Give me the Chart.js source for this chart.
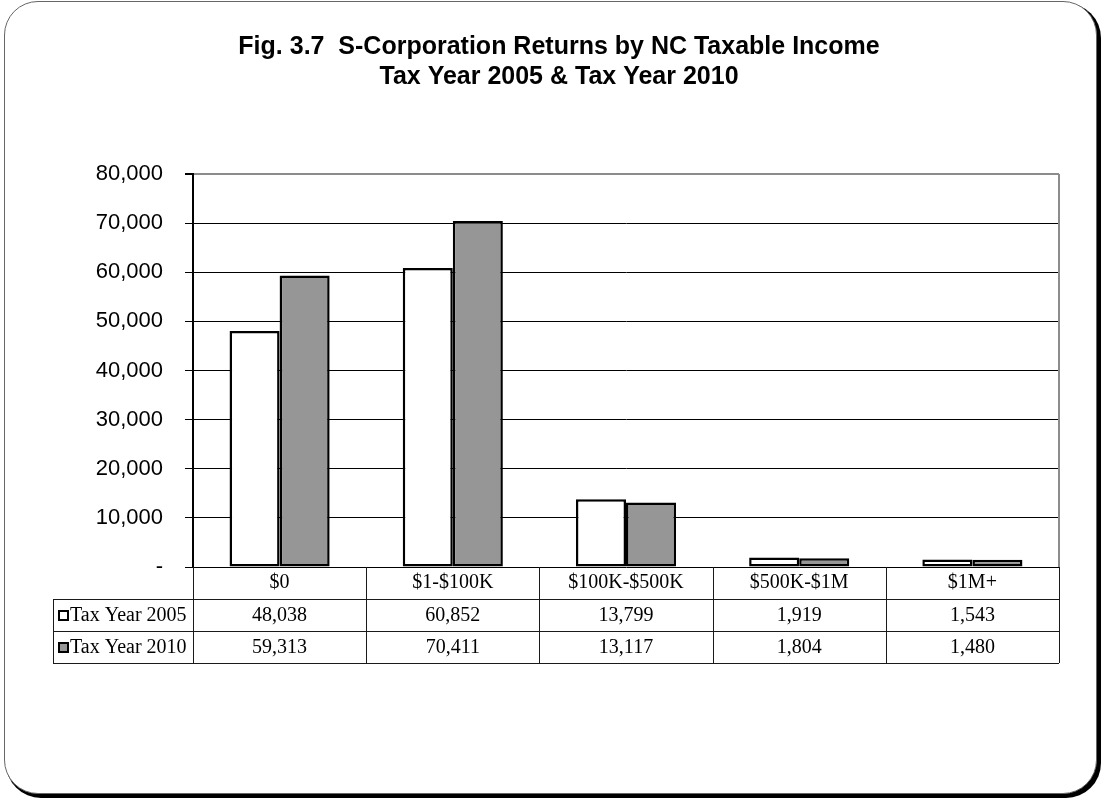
<!DOCTYPE html>
<html>
<head>
<meta charset="utf-8">
<script src="https://cdn.jsdelivr.net/npm/chart.js@4/dist/chart.umd.min.js"></script>
<style>
    html, body { margin: 0; padding: 0; background: #fff; }
    #frame {
        position: absolute; left: 4px; top: 1px; width: 1091px; height: 791px;
        border: 1.5px solid #666; border-radius: 34px;
        box-shadow: 3px 3px 0 1px #000;
        background: #fff;
    }
    #salesChart { position: absolute; left: 0; top: 0; }
</style>
</head>
<body>
<div id="frame"></div>
<canvas id="salesChart" width="1102" height="799"></canvas>
<script>
const titleLines = ['Fig. 3.7  S-Corporation Returns by NC Taxable Income', 'Tax Year 2005 & Tax Year 2010'];
const categories = ['$0', '$1-$100K', '$100K-$500K', '$500K-$1M', '$1M+'];
const seriesNames = ['Tax Year 2005', 'Tax Year 2010'];
const values2005 = [48038, 60852, 13799, 1919, 1543];
const values2010 = [59313, 70411, 13117, 1804, 1480];
const yTicks = [0, 10000, 20000, 30000, 40000, 50000, 60000, 70000, 80000];

const fillColors = ['#ffffff', '#969696'];
const serifFont = '20px "Liberation Serif", "Times New Roman", serif';

const fmt = v => v.toLocaleString('en-US');

// draws the right plot border and the data table under the x axis
const dataTablePlugin = {
    id: 'dataTable',
    afterDraw(chart) {
        const ctx = chart.ctx;
        const area = chart.chartArea;
        const x = chart.scales.x;
        const step = (area.right - area.left) / categories.length;
        const rowH = 32;
        const headLeft = 53;
        const top = area.bottom;
        const rows = [top, top + rowH, top + rowH * 2, top + rowH * 3];

        ctx.save();
        // right border of plot
        ctx.strokeStyle = '#8c8c8c';
        ctx.lineWidth = 2;
        ctx.beginPath();
        ctx.moveTo(area.right, area.top);
        ctx.lineTo(area.right, area.bottom);
        ctx.stroke();

        ctx.strokeStyle = '#1a1a1a';
        ctx.lineWidth = 1;
        ctx.beginPath();
        for (let i = 0; i <= categories.length; i++) {
            const lx = Math.round(area.left + i * step) + 0.5;
            ctx.moveTo(lx, rows[0]);
            ctx.lineTo(lx, rows[3]);
        }
        for (let r = 1; r < rows.length; r++) {
            ctx.moveTo(headLeft, rows[r] + 0.5);
            ctx.lineTo(area.right, rows[r] + 0.5);
        }
        ctx.moveTo(headLeft + 0.5, rows[1]);
        ctx.lineTo(headLeft + 0.5, rows[3]);
        ctx.stroke();

        ctx.fillStyle = '#000';
        ctx.font = serifFont;
        ctx.textAlign = 'center';
        ctx.textBaseline = 'middle';
        categories.forEach((c, i) => {
            const cx = x.getPixelForValue(i);
            ctx.fillText(c, cx, rows[0] + rowH / 2);
            ctx.fillText(fmt(values2005[i]), cx, rows[1] + rowH / 2 + 1);
            ctx.fillText(fmt(values2010[i]), cx, rows[2] + rowH / 2 + 1);
        });

        // legend keys + series names
        seriesNames.forEach((name, s) => {
            const cy = rows[s + 1] + rowH / 2;
            ctx.fillStyle = fillColors[s];
            ctx.fillRect(59, cy - 4, 9, 9);
            ctx.strokeStyle = '#000';
            ctx.lineWidth = 2;
            ctx.strokeRect(59, cy - 4, 9, 9);
            ctx.fillStyle = '#000';
            ctx.textAlign = 'left';
            ctx.fillText(name, 70, cy + 1);
        });
        ctx.restore();
    }
};

new Chart(document.getElementById('salesChart'), {
    type: 'bar',
    data: {
        labels: categories,
        datasets: [
            {
                label: seriesNames[0],
                data: values2005,
                backgroundColor: fillColors[0],
                borderColor: '#000',
                borderWidth: 2.5,
                borderSkipped: false,
                categoryPercentage: 0.578,
                barPercentage: 1
            },
            {
                label: seriesNames[1],
                data: values2010,
                backgroundColor: fillColors[1],
                borderColor: '#000',
                borderWidth: 2.5,
                borderSkipped: false,
                categoryPercentage: 0.578,
                barPercentage: 1
            }
        ]
    },
    options: {
        responsive: false,
        animation: false,
        devicePixelRatio: 1,
        layout: {padding: {left: 59, right: 43, top: 0, bottom: 232}},
        plugins: {
            legend: {display: false},
            tooltip: {enabled: false},
            title: {
                display: true,
                text: titleLines,
                color: '#000',
                font: {family: '"Liberation Sans", Arial, sans-serif', size: 25, weight: 'bold', lineHeight: 1.2},
                padding: {top: 32, bottom: 82}
            }
        },
        scales: {
            x: {display: false},
            y: {
                min: 0,
                max: 80000,
                afterFit(scale) { scale.width = 134; },
                afterBuildTicks(scale) { scale.ticks = yTicks.map(v => ({value: v})); },
                ticks: {
                    color: '#000',
                    padding: 22,
                    font: {family: '"Liberation Sans", Arial, sans-serif', size: 22},
                    callback: v => v === 0 ? '-' : fmt(v)
                },
                grid: {
                    color: ctx => ctx.tick && ctx.tick.value === 80000 ? '#8c8c8c' : '#000',
                    lineWidth: ctx => ctx.tick && ctx.tick.value === 80000 ? 2 : 1,
                    tickColor: '#000',
                    tickLength: 8
                },
                border: {color: '#000', width: 2}
            }
        }
    },
    plugins: [dataTablePlugin]
});
</script>
</body>
</html>
